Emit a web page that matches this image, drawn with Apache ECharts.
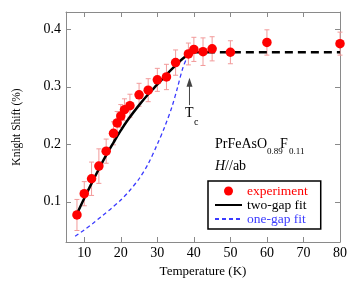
<!DOCTYPE html>
<html><head><meta charset="utf-8">
<script src="https://cdn.jsdelivr.net/npm/echarts@6/dist/echarts.min.js"></script>
<style>html,body{margin:0;padding:0;background:#fff}#c{width:354px;height:290px}</style>
</head><body><div id="c"></div>
<script>
var FONT = 'Liberation Serif';
var xTicks = [10, 20, 30, 40, 50, 60, 70, 80];
var yTicks = [0.1, 0.2, 0.3, 0.4];

var expT = [8, 10, 12, 14, 16, 18, 19, 20, 21, 22.5, 25, 27.5, 30, 32.5, 35, 38.5, 40, 42.5, 45, 50, 60, 80];
var expK = [0.077, 0.114, 0.140, 0.162, 0.188, 0.219, 0.237, 0.249, 0.260, 0.267, 0.286, 0.294, 0.312, 0.317, 0.342, 0.357, 0.365, 0.361, 0.366, 0.360, 0.377, 0.375];
var expErr = [0.027, 0.021, 0.029, 0.030, 0.021, 0.020, 0.020, 0.020, 0.019, 0.020, 0.020, 0.020, 0.020, 0.022, 0.022, 0.019, 0.021, 0.024, 0.021, 0.020, 0.022, 0.020];

var twoGapT = [7.5, 10, 12, 14, 16, 18, 20, 22, 25, 27.5, 30, 32.5, 35, 37, 39, 40];
var twoGapK = [0.072, 0.106, 0.132, 0.157, 0.181, 0.203, 0.224, 0.243, 0.268, 0.287, 0.304, 0.321, 0.337, 0.349, 0.358, 0.360];
var normalT = [40, 80];
var normalK = [0.360, 0.360];

var oneGapT = [7.5, 10, 12.5, 15, 17.5, 20, 22.5, 25, 27.5, 30, 32, 34, 35.5, 37, 38.5, 39.5];
var oneGapK = [0.040, 0.051, 0.063, 0.076, 0.089, 0.103, 0.120, 0.140, 0.166, 0.200, 0.230, 0.265, 0.298, 0.333, 0.355, 0.360];

var tcT = 38.8;
var tcArrow = [0.268, 0.313];

function zip(a, b) { return a.map(function (v, i) { return [v, b[i]]; }); }
var errData = expT.map(function (t, i) { return [t, expK[i], expErr[i]]; });

var axisLineStyle = { color: '#8a8a8a', width: 1 };
function xAx(pos, labels) {
  return {
    type: 'value', position: pos, min: 5, max: 80,
    axisLine: { show: true, onZero: false, lineStyle: axisLineStyle },
    axisTick: { show: true, inside: true, length: 5, lineStyle: axisLineStyle, customValues: xTicks },
    axisLabel: { show: labels, customValues: xTicks, fontFamily: FONT, fontSize: 14, color: '#000', margin: 4 },
    splitLine: { show: false },
    name: labels ? 'Temperature (K)' : '', nameLocation: 'middle', nameGap: 17,
    nameTextStyle: { fontFamily: FONT, fontSize: 13, color: '#000' }
  };
}
function yAx(pos, labels) {
  return {
    type: 'value', position: pos, min: 0.03, max: 0.43,
    axisLine: { show: true, onZero: false, lineStyle: axisLineStyle },
    axisTick: { show: true, inside: true, length: 5, lineStyle: axisLineStyle, customValues: yTicks },
    axisLabel: { show: labels, customValues: yTicks, fontFamily: FONT, fontSize: 14, color: '#000', margin: 5,
      formatter: function (v) { return (Math.round(v * 10) / 10).toFixed(1); } },
    splitLine: { show: false },
    name: labels ? 'Knight Shift (%)' : '', nameLocation: 'middle', nameGap: 43, nameRotate: 90,
    nameTextStyle: { fontFamily: FONT, fontSize: 11.5, color: '#000' }
  };
}

var chart = echarts.init(document.getElementById('c'), null, { renderer: 'canvas' });
chart.setOption({
  animation: false,
  grid: { left: 66, right: 14, top: 12, bottom: 48 },
  xAxis: [xAx('bottom', true), xAx('top', false)],
  yAxis: [yAx('left', true), yAx('right', false)],
  legend: {
    left: 208, top: 181, orient: 'vertical',
    itemWidth: 27, itemHeight: 9, itemGap: 0,
    padding: [3, 13, 3, 6],
    borderColor: '#000', borderWidth: 1.5,
    textStyle: { fontFamily: FONT, fontSize: 13.5 },
    data: [
      { name: 'experiment', textStyle: { color: '#ff0000' } },
      { name: 'two-gap fit', textStyle: { color: '#000' }, itemStyle: { opacity: 0 } },
      { name: 'one-gap fit', textStyle: { color: '#3a3aff' }, itemStyle: { opacity: 0 } }
    ]
  },
  series: [
    {
      name: 'errors', type: 'custom', z: 2, silent: true,
      data: errData,
      renderItem: function (params, api) {
        var x = api.value(0), y = api.value(1), e = api.value(2);
        var top = api.coord([x, y + e]), bot = api.coord([x, y - e]);
        var st = { stroke: '#f29a9a', lineWidth: 1 };
        return { type: 'group', children: [
          { type: 'line', shape: { x1: top[0], y1: top[1], x2: bot[0], y2: bot[1] }, style: st },
          { type: 'line', shape: { x1: top[0] - 2.5, y1: top[1], x2: top[0] + 2.5, y2: top[1] }, style: st },
          { type: 'line', shape: { x1: bot[0] - 2.5, y1: bot[1], x2: bot[0] + 2.5, y2: bot[1] }, style: st }
        ] };
      }
    },
    {
      name: 'one-gap fit', type: 'line', z: 3, data: zip(oneGapT, oneGapK), symbol: 'none', smooth: 0.3,
      lineStyle: { color: '#3a3aff', width: 1.3, type: [4, 3] }, itemStyle: { color: '#3a3aff' }
    },
    {
      name: 'two-gap fit', type: 'line', z: 4, data: zip(twoGapT, twoGapK), symbol: 'none', smooth: 0.4,
      lineStyle: { color: '#000', width: 2.5 }, itemStyle: { color: '#000' }
    },
    {
      name: 'normal', type: 'line', z: 4, data: zip(normalT, normalK), symbol: 'none',
      lineStyle: { color: '#000', width: 2.5, type: [8, 5] }
    },
    {
      name: 'tcArrow', type: 'line', z: 4, data: zip([tcT, tcT], tcArrow), symbol: 'none',
      lineStyle: { color: '#444', width: 1 }, silent: true,
      markPoint: {
        silent: true, symbol: 'triangle', symbolSize: [6, 9], symbolOffset: [0, 3],
        itemStyle: { color: '#444' }, label: { show: false },
        data: [{ coord: [tcT, tcArrow[1]] }]
      }
    },
    {
      name: 'experiment', type: 'scatter', z: 5, data: zip(expT, expK), symbol: 'circle', symbolSize: 9.5,
      itemStyle: { color: '#ff0000', opacity: 1 }
    }
  ],
  graphic: [
    { type: 'text', left: 185, top: 106, style: { text: 'T', font: '14px "Liberation Serif"', fill: '#000' } },
    { type: 'text', left: 194, top: 117, style: { text: 'c', font: '10px "Liberation Serif"', fill: '#000' } },
    { type: 'text', left: 215, top: 137, style: { text: 'PrFeAsO', font: '14px "Liberation Serif"', fill: '#000' } },
    { type: 'text', left: 267, top: 147, style: { text: '0.89', font: '9px "Liberation Serif"', fill: '#000' } },
    { type: 'text', left: 280, top: 137, style: { text: 'F', font: '14px "Liberation Serif"', fill: '#000' } },
    { type: 'text', left: 289, top: 147, style: { text: '0.11', font: '9px "Liberation Serif"', fill: '#000' } },
    { type: 'text', left: 215, top: 159, style: { text: '{i|H}//ab', font: '14px "Liberation Serif"', fill: '#000',
      rich: { i: { fontStyle: 'italic', fontFamily: FONT, fontSize: 14 } } } }
  ]
});
</script></body></html>
